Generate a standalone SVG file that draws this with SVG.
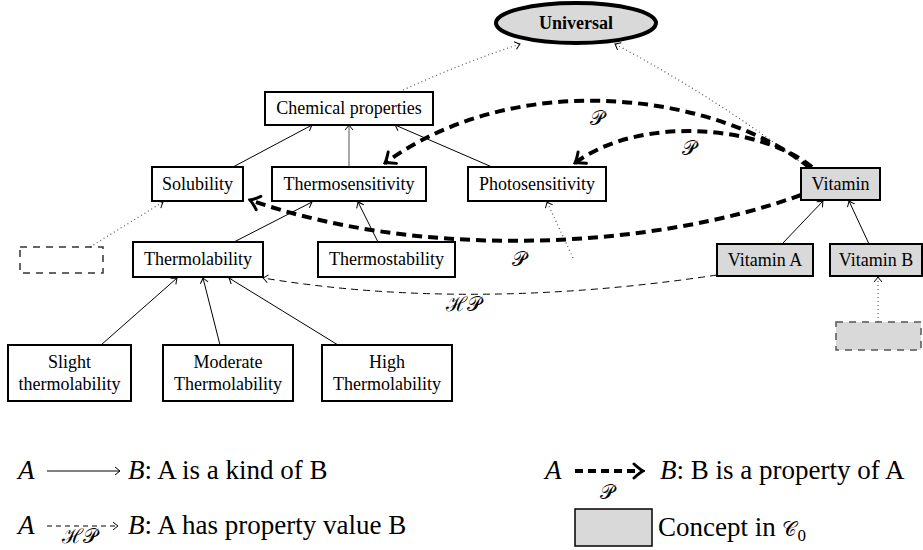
<svg xmlns="http://www.w3.org/2000/svg" width="923" height="550" viewBox="0 0 923 550">
<style>
text{font-family:"Liberation Serif","Times New Roman",Times,serif;font-size:18px;fill:#000}
.n rect{fill:#fff;stroke:#000;stroke-width:2}
.n.g rect{fill:#d9d9d9}
.c{text-anchor:middle}
.kind{fill:none;stroke:#000;stroke-width:1}
.dot{fill:none;stroke:#555;stroke-width:1.2;stroke-dasharray:1 3}
.hp{fill:none;stroke:#000;stroke-width:1;stroke-dasharray:7 5}
.prop{fill:none;stroke:#000;stroke-width:4;stroke-dasharray:10 6}
.m{font-style:italic;font-size:27px}
.cal{font-family:"DejaVu Serif","Noto Sans",serif;font-size:20px}
.leg{font-size:27px}
</style>
<defs>
<marker id="to" viewBox="-7 -6 8 12" markerWidth="8" markerHeight="12" refX="0" refY="0" orient="auto" markerUnits="userSpaceOnUse">
<path d="M-5,-4 Q-1.5,-1 0,0 Q-1.5,1 -5,4" fill="none" stroke="#000" stroke-width="1"/>
</marker>
<marker id="pto" viewBox="-12 -9 14 18" markerWidth="14" markerHeight="18" refX="0" refY="0" orient="auto" markerUnits="userSpaceOnUse">
<path d="M-9,-7 Q-3,-1.5 0,0 Q-3,1.5 -9,7" fill="none" stroke="#000" stroke-width="3" stroke-linecap="round"/>
</marker>
</defs>

<g id="connectors">
<path class="kind" d="M233,167 L312,125" marker-end="url(#to)"/>
<path class="kind" d="M349,167 L349,125" style="stroke:#555" marker-end="url(#to)"/>
<path class="kind" d="M492,167 L395,125" marker-end="url(#to)"/>
<path class="kind" d="M234,242 L312,202" marker-end="url(#to)"/>
<path class="kind" d="M378,242 L358,202" marker-end="url(#to)"/>
<path class="kind" d="M101,345 L177,278" marker-end="url(#to)"/>
<path class="kind" d="M220,345 L203,278" marker-end="url(#to)"/>
<path class="kind" d="M338,345 L229,278" marker-end="url(#to)"/>
<path class="kind" d="M782,244 L823,201" marker-end="url(#to)"/>
<path class="kind" d="M869,244 L849,201" marker-end="url(#to)"/>
<path class="dot" d="M403,90 Q465,62 520,44" marker-end="url(#to)"/>
<path class="dot" d="M808,168 Q720,100 615,44" marker-end="url(#to)"/>
<path class="dot" d="M90,247 L163,202" marker-end="url(#to)"/>
<path class="dot" d="M573,258 L547,202" marker-end="url(#to)"/>
<path class="dot" d="M878,322 L878,277" marker-end="url(#to)"/>
<path class="hp" d="M717,275 Q470,312 263,278" marker-end="url(#to)"/>
<path class="prop" d="M810,168 C720,95 520,65 385,163" marker-end="url(#pto)"/>
<path class="prop" d="M812,167 C760,125 640,115 575,163" marker-end="url(#pto)"/>
<path class="prop" d="M801,195 C650,250 420,260 250,200" marker-end="url(#pto)"/>
<text class="cal" x="590" y="125">𝒫</text>
<text class="cal" x="682" y="155">𝒫</text>
<text class="cal" x="512" y="266">𝒫</text>
<text class="cal" x="446" y="311">ℋ𝒫</text>
</g>

<g id="universal"><ellipse cx="576" cy="23" rx="80" ry="20" fill="#d9d9d9" stroke="#000" stroke-width="4"/><text class="c" x="576" y="29" font-weight="bold">Universal</text></g>
<g id="chemical" class="n"><rect x="265" y="92" width="168" height="33"/><text class="c" x="349" y="114">Chemical properties</text></g>
<g id="solubility" class="n"><rect x="152" y="167" width="91" height="34"/><text class="c" x="197.5" y="190">Solubility</text></g>
<g id="thermosensitivity" class="n"><rect x="272" y="167" width="154" height="34"/><text class="c" x="349" y="190">Thermosensitivity</text></g>
<g id="photosensitivity" class="n"><rect x="468" y="167" width="138" height="34"/><text class="c" x="537" y="190">Photosensitivity</text></g>
<g id="vitamin" class="n g"><rect x="801" y="168" width="79" height="32"/><text class="c" x="840.5" y="190">Vitamin</text></g>
<g id="thermolability" class="n"><rect x="133" y="242" width="130" height="35"/><text class="c" x="198" y="265">Thermolability</text></g>
<g id="thermostability" class="n"><rect x="318" y="242" width="137" height="35"/><text class="c" x="386.5" y="265">Thermostability</text></g>
<g id="vitaminA" class="n g"><rect x="717" y="244" width="96" height="32"/><text class="c" x="765" y="266">Vitamin A</text></g>
<g id="vitaminB" class="n g"><rect x="830" y="244" width="92" height="32"/><text class="c" x="876" y="266">Vitamin B</text></g>
<g id="emptyLeft"><rect x="20" y="247" width="83" height="26" fill="none" stroke="#333" stroke-width="1.5" stroke-dasharray="7 6"/></g>
<g id="emptyRight"><rect x="836" y="322" width="85" height="28" fill="#d9d9d9" stroke="#555" stroke-width="1.5" stroke-dasharray="7 6"/></g>
<g id="slight" class="n"><rect x="8" y="345" width="123" height="56"/><text class="c" x="69.5" y="368">Slight</text><text class="c" x="69.5" y="390">thermolability</text></g>
<g id="moderate" class="n"><rect x="163" y="345" width="130" height="56"/><text class="c" x="228" y="368">Moderate</text><text class="c" x="228" y="390">Thermolability</text></g>
<g id="high" class="n"><rect x="322" y="345" width="130" height="56"/><text class="c" x="387" y="368">High</text><text class="c" x="387" y="390">Thermolability</text></g>

<g id="legend">
<text class="m" x="18" y="479">A</text>
<path class="kind" d="M47,471 L120,471" marker-end="url(#to)"/>
<text class="leg" x="128" y="479"><tspan class="m">B</tspan>: A is a kind of B</text>
<text class="m" x="18" y="534">A</text>
<path class="hp" d="M47,526 L118,526" style="stroke-dasharray:5 4" marker-end="url(#to)"/>
<text class="cal" x="62" y="543" font-size="18">ℋ𝒫</text>
<text class="leg" x="128" y="534"><tspan class="m">B</tspan>: A has property value B</text>
<text class="m" x="545" y="479">A</text>
<path class="prop" d="M575,471 L643,471" style="stroke-dasharray:8 5" marker-end="url(#pto)"/>
<text class="cal" x="600" y="499">𝒫</text>
<text class="leg" x="660" y="479"><tspan class="m">B</tspan>: B is a property of A</text>
<rect x="575" y="509" width="77" height="37" fill="#d9d9d9" stroke="#000" stroke-width="1.5"/>
<text class="leg" x="658" y="536">Concept in <tspan class="cal" font-size="24">𝒞</tspan><tspan font-size="17" dy="5">0</tspan></text>
</g>
</svg>
